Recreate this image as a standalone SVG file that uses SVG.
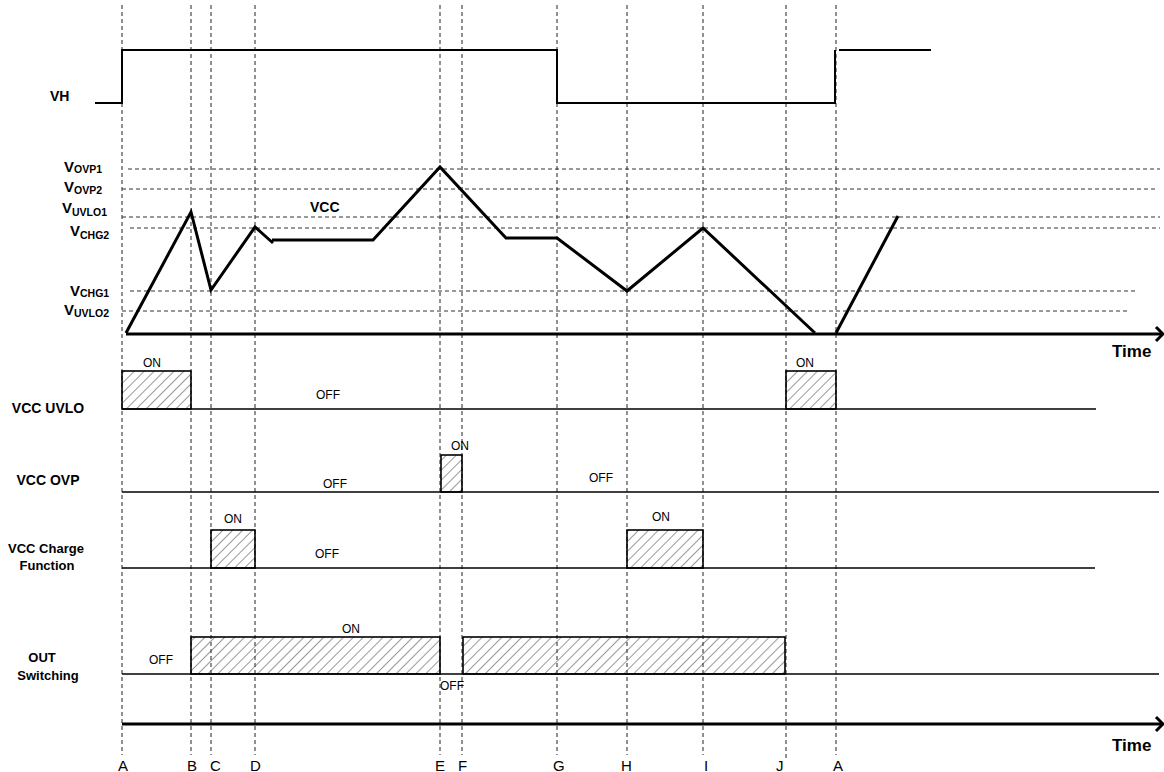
<svg xmlns="http://www.w3.org/2000/svg" width="1164" height="772" viewBox="0 0 1164 772">
<style>
.vd{stroke:#222;stroke-width:1;stroke-dasharray:4 3;fill:none}
.hd{stroke:#333;stroke-width:1;stroke-dasharray:4 3;fill:none}
.sig{stroke:#000;stroke-width:2;fill:none}
.base{stroke:#000;stroke-width:1.6;fill:none}
.trace{stroke:#000;stroke-width:3;fill:none;stroke-linejoin:miter}
.axis{stroke:#000;stroke-width:3;fill:none}
.box{stroke:#000;stroke-width:1.6;fill:url(#hatch)}
.lb{font-family:"Liberation Sans",Arial,sans-serif;font-weight:bold;font-size:14px;fill:#000}
.lb13{font-family:"Liberation Sans",Arial,sans-serif;font-weight:bold;font-size:13px;fill:#000}
.st{font-family:"Liberation Sans",Arial,sans-serif;font-size:12px;fill:#000}
.tk{font-family:"Liberation Sans",Arial,sans-serif;font-size:15px;fill:#000}
.vl{font-family:"Liberation Sans",Arial,sans-serif;font-weight:bold;font-size:15px;fill:#000}
.sub{font-size:10.5px}
</style>
<defs>
<pattern id="hatch" patternUnits="userSpaceOnUse" width="7" height="7" patternTransform="rotate(45)">
<line x1="0" y1="0" x2="0" y2="7" stroke="#333" stroke-width="1"/>
</pattern>
</defs>

<g id="guides">
<line class="vd" x1="122" y1="5" x2="122" y2="755"/>
<line class="vd" x1="191" y1="5" x2="191" y2="755"/>
<line class="vd" x1="211" y1="5" x2="211" y2="755"/>
<line class="vd" x1="255" y1="5" x2="255" y2="755"/>
<line class="vd" x1="440" y1="5" x2="440" y2="755"/>
<line class="vd" x1="462" y1="5" x2="462" y2="755"/>
<line class="vd" x1="557" y1="5" x2="557" y2="755"/>
<line class="vd" x1="627" y1="5" x2="627" y2="755"/>
<line class="vd" x1="703" y1="5" x2="703" y2="755"/>
<line class="vd" x1="786" y1="5" x2="786" y2="760"/>
<line class="vd" x1="836" y1="5" x2="836" y2="755"/>
<line class="hd" x1="128" y1="169" x2="1160" y2="169"/>
<line class="hd" x1="122" y1="189" x2="1157" y2="189"/>
<line class="hd" x1="122" y1="217" x2="1160" y2="217"/>
<line class="hd" x1="130" y1="228" x2="1160" y2="228"/>
<line class="hd" x1="130" y1="291" x2="1138" y2="291"/>
<line class="hd" x1="122" y1="311" x2="1130" y2="311"/>
</g>

<g id="vh">
<text class="lb" x="50" y="101">VH</text>
<polyline class="sig" points="95,103 122,103 122,50 557,50 557,103 835,103 835,50"/>
<line class="sig" x1="839" y1="50" x2="931" y2="50"/>
</g>

<g id="vcc">
<text class="vl" x="64" y="172">V<tspan class="sub" dy="1">OVP1</tspan></text>
<text class="vl" x="64" y="192">V<tspan class="sub" dy="2">OVP2</tspan></text>
<text class="vl" x="62" y="213">V<tspan class="sub" dy="3">UVLO1</tspan></text>
<text class="vl" x="70" y="236">V<tspan class="sub" dy="3">CHG2</tspan></text>
<text class="vl" x="70" y="296">V<tspan class="sub" dy="1">CHG1</tspan></text>
<text class="vl" x="64" y="315">V<tspan class="sub" dy="2">UVLO2</tspan></text>
<text class="lb" x="310" y="212">VCC</text>
<polyline class="trace" points="126,333 191,212 211,290 255,227 273,243"/>
<polyline class="trace" points="272,240 373,240 440,167 506,238 557,238 627,291 703,228 815,333"/>
<polyline class="trace" points="836,333 898,216"/>
</g>

<g id="time-axis-1">
<line class="axis" x1="126" y1="334" x2="1161" y2="334"/>
<polyline class="axis" points="1156,327 1163,334 1156,341"/>
<text class="lb" x="1112" y="357" style="font-size:17px">Time</text>
</g>

<g id="vcc-uvlo">
<text class="lb" x="48" y="413" text-anchor="middle">VCC UVLO</text>
<line class="base" x1="122" y1="409" x2="1096" y2="409"/>
<rect class="box" x="122" y="371" width="69" height="38"/>
<rect class="box" x="786" y="371" width="50" height="38"/>
<text class="st" x="143" y="367">ON</text>
<text class="st" x="796" y="367">ON</text>
<text class="st" x="316" y="399">OFF</text>
</g>

<g id="vcc-ovp">
<text class="lb" x="48" y="485" text-anchor="middle">VCC OVP</text>
<line class="base" x1="122" y1="492" x2="1159" y2="492"/>
<rect class="box" x="441" y="455" width="21" height="37"/>
<text class="st" x="451" y="450">ON</text>
<text class="st" x="323" y="488">OFF</text>
<text class="st" x="589" y="482">OFF</text>
</g>

<g id="vcc-charge">
<text class="lb13" x="46" y="553" text-anchor="middle">VCC Charge</text>
<text class="lb13" x="47" y="570" text-anchor="middle">Function</text>
<line class="base" x1="122" y1="568" x2="1095" y2="568"/>
<rect class="box" x="211" y="530" width="44" height="38"/>
<rect class="box" x="627" y="530" width="76" height="38"/>
<text class="st" x="224" y="523">ON</text>
<text class="st" x="652" y="521">ON</text>
<text class="st" x="315" y="558">OFF</text>
</g>

<g id="out-switching">
<text class="lb13" x="42" y="662" text-anchor="middle">OUT</text>
<text class="lb13" x="48" y="680" text-anchor="middle">Switching</text>
<line class="base" x1="122" y1="674" x2="1159" y2="674"/>
<rect class="box" x="191" y="637" width="249" height="37"/>
<rect class="box" x="463" y="637" width="322" height="37"/>
<text class="st" x="342" y="633">ON</text>
<text class="st" x="149" y="664">OFF</text>
<text class="st" x="440" y="690">OFF</text>
</g>

<g id="time-axis-2">
<line class="axis" x1="122" y1="724" x2="1161" y2="724"/>
<polyline class="axis" points="1156,717 1163,724 1156,731"/>
<text class="lb" x="1112" y="751" style="font-size:17px">Time</text>
</g>

<g id="ticks">
<text class="tk" x="118" y="771">A</text>
<text class="tk" x="187" y="771">B</text>
<text class="tk" x="210" y="771">C</text>
<text class="tk" x="250" y="771">D</text>
<text class="tk" x="435" y="771">E</text>
<text class="tk" x="458" y="771">F</text>
<text class="tk" x="553" y="771">G</text>
<text class="tk" x="621" y="771">H</text>
<text class="tk" x="704" y="771">I</text>
<text class="tk" x="776" y="771">J</text>
<text class="tk" x="833" y="771">A</text>
</g>
</svg>
